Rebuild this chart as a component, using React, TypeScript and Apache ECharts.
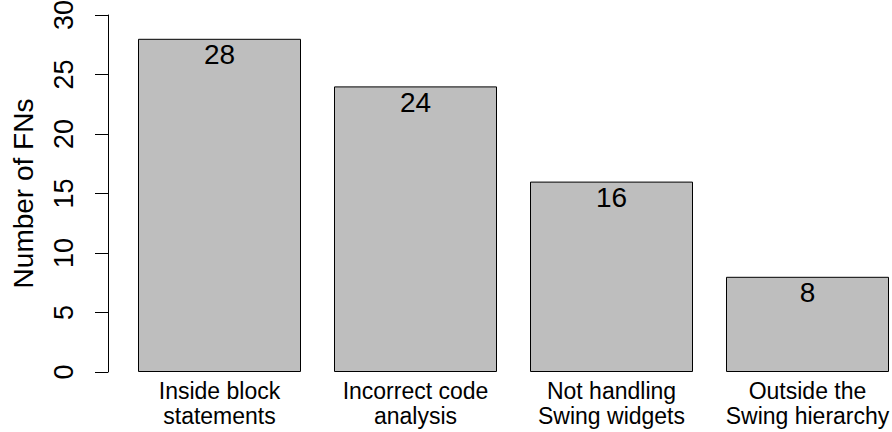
import React, { useEffect, useRef } from "react";
import * as echarts from "echarts";

const categories: string[] = [
  "Inside block\nstatements",
  "Incorrect code\nanalysis",
  "Not handling\nSwing widgets",
  "Outside the\nSwing hierarchy",
];
const fnCounts: number[] = [28, 24, 16, 8];
const yTicks = { min: 0, max: 30, interval: 5 };
const yTitle = "Number of FNs";

const FONT = "'Liberation Sans', Arial, Helvetica, sans-serif";

export default function App() {
  const ref = useRef<HTMLDivElement>(null);
  useEffect(() => {
    if (!ref.current) return;
    const chart = echarts.init(ref.current, undefined, { renderer: "svg" });
    chart.setOption({
      animation: false,
      backgroundColor: "#ffffff",
      textStyle: { fontFamily: FONT },
      grid: {
        left: 121.5,
        top: 15,
        width: 784,
        height: 357,
        containLabel: false,
        outerBoundsMode: "none",
      },
      xAxis: {
        type: "category",
        data: categories,
        axisLine: { show: false },
        axisTick: { show: false },
        axisLabel: {
          interval: 0,
          margin: 6,
          fontSize: 23,
          lineHeight: 25,
          color: "#000000",
          fontFamily: FONT,
        },
      },
      yAxis: {
        type: "value",
        min: yTicks.min,
        max: yTicks.max,
        interval: yTicks.interval,
        offset: 13.5,
        name: yTitle,
        nameLocation: "middle",
        nameGap: 71,
        nameRotate: 90,
        nameTextStyle: { fontSize: 28, color: "#000000", fontFamily: FONT },
        splitLine: { show: false },
        axisLine: { show: true, lineStyle: { color: "#000000", width: 1 } },
        axisTick: { show: true, length: 13, lineStyle: { color: "#000000", width: 1 } },
        axisLabel: {
          rotate: 90,
          margin: 31,
          fontSize: 27,
          color: "#000000",
          fontFamily: FONT,
        },
      },
      series: [
        {
          type: "bar",
          data: fnCounts,
          barWidth: 163,
          itemStyle: { color: "#BEBEBE", borderColor: "#000000", borderWidth: 1 },
          label: {
            show: true,
            position: "insideTop",
            distance: 2,
            fontSize: 28,
            color: "#000000",
            fontFamily: FONT,
          },
        },
      ],
    });
    return () => chart.dispose();
  }, []);
  return (
    <div
      ref={ref}
      style={{ position: "fixed", left: 0, top: 0, width: 892, height: 432 }}
    />
  );
}
